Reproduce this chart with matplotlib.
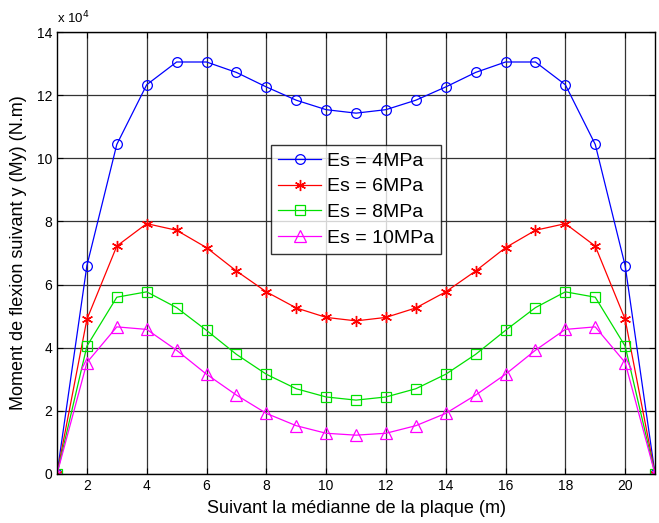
import numpy as np
import matplotlib
matplotlib.use('Agg')
import matplotlib.pyplot as plt

plt.rcParams['font.family'] = ['Liberation Sans', 'DejaVu Sans']

# positions along the plate (m)
x = np.arange(1, 22)

# bending moment My (x 1e4 N.m), one curve per soil modulus
half_4 = [0, 6.6, 10.44, 12.33, 13.05, 13.05, 12.72, 12.26, 11.84, 11.54]
mid_4 = [11.43]
half_6 = [0, 4.9, 7.22, 7.93, 7.72, 7.17, 6.43, 5.77, 5.26, 4.96]
mid_6 = [4.85]
half_8 = [0, 4.05, 5.6, 5.77, 5.27, 4.55, 3.79, 3.16, 2.70, 2.44]
mid_8 = [2.34]
half_10 = [0, 3.53, 4.66, 4.58, 3.92, 3.16, 2.50, 1.92, 1.53, 1.29]
mid_10 = [1.23]

My_4 = np.array(half_4 + mid_4 + half_4[::-1])
My_6 = np.array(half_6 + mid_6 + half_6[::-1])
My_8 = np.array(half_8 + mid_8 + half_8[::-1])
My_10 = np.array(half_10 + mid_10 + half_10[::-1])

labels = ['Es = 4MPa', 'Es = 6MPa', 'Es = 8MPa', 'Es = 10MPa']
xticks = [2, 4, 6, 8, 10, 12, 14, 16, 18, 20]
yticks = [0, 2, 4, 6, 8, 10, 12, 14]

fig = plt.figure(figsize=(6.59, 5.23), dpi=100)
ax = fig.add_axes([0.0865, 0.0937, 0.9075, 0.8451])

ax.plot(x, My_4, 'o-', color='#0000ff', lw=0.9, ms=7, mfc='none', mew=0.9, label=labels[0])
ax.plot(x, My_6, marker=(6, 2, 0), ls='-', color='#ff0000', lw=0.9, ms=8, mew=1.0, label=labels[1])
ax.plot(x, My_8, 's-', color='#00e000', lw=0.9, ms=7, mfc='none', mew=0.9, label=labels[2])
ax.plot(x, My_10, '^-', color='#ff00ff', lw=0.9, ms=8, mfc='none', mew=0.9, label=labels[3])

ax.set_xlim(1, 21)
ax.set_ylim(0, 14)
ax.set_xticks(xticks)
ax.set_yticks(yticks)
ax.tick_params(direction='in', labelsize=10, length=4, width=0.8, top=True, right=True)
ax.grid(True, color='#333333', lw=0.9, ls='-')
for s in ax.spines.values():
    s.set_linewidth(1.0)

ax.text(0.0, 1.012, r'x 10$^4$', transform=ax.transAxes, fontsize=9.5, ha='left', va='bottom')

ax.set_xlabel('Suivant la médianne de la plaque (m)', fontsize=13, labelpad=5)
ax.set_ylabel('Moment de flexion suivant y (My) (N.m)', fontsize=13, labelpad=7)

leg = ax.legend(loc='upper left', bbox_to_anchor=(0.3585, 0.744), fontsize=14,
                frameon=True, fancybox=False, edgecolor='black', handlelength=2.2,
                borderpad=0.35, labelspacing=0.42, handletextpad=0.3, borderaxespad=0)
leg.get_frame().set_linewidth(1.0)

fig.savefig('out.png', dpi=100)
